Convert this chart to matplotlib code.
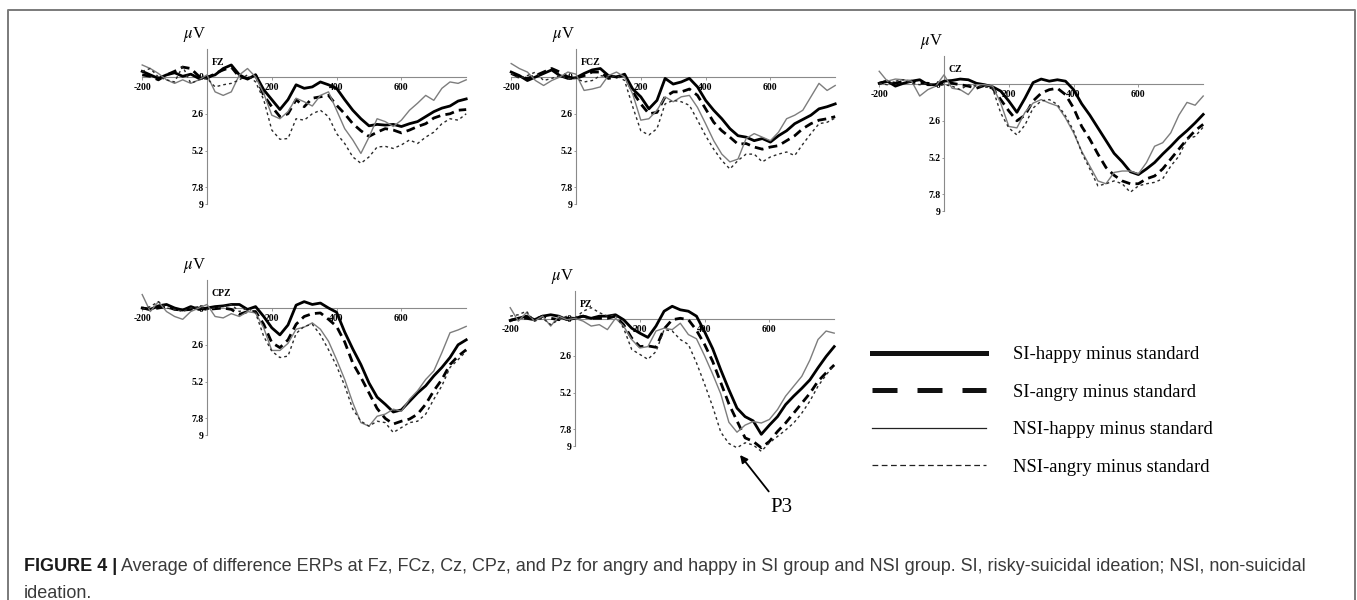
import matplotlib
matplotlib.use("Agg")
import matplotlib.pyplot as plt
from matplotlib.lines import Line2D

plt.rcParams["font.family"] = "serif"
plt.rcParams["font.serif"] = ["Liberation Serif", "DejaVu Serif"]
plt.rcParams["mathtext.fontset"] = "stix"

# time axis of the ERP difference waves (ms)
TIMES = list(range(-200, 801, 25))

# amplitudes in microvolts (positive plotted downwards, as in the figure)
FZ_SI_HAPPY = [-0.4, -0.15, 0.1, -0.15, -0.3, -0.05, -0.2, 0.1, 0.0, -0.15, -0.6, -0.85, -0.15, 0.15, -0.15, 0.9,
               1.6, 2.3, 1.6, 0.55, 0.8, 0.7, 0.35, 0.55, 0.8, 1.6, 2.35, 2.95, 3.45, 3.35, 3.4, 3.35, 3.5, 3.3,
               3.15, 2.8, 2.45, 2.2, 2.05, 1.7, 1.55]
FZ_SI_ANGRY = [-0.15, -0.05, 0.2, -0.15, -0.4, -0.7, -0.6, -0.05, 0.1, -0.25, -0.5, -0.7, 0.0, 0.1, -0.15, 1.3,
               2.1, 2.8, 2.6, 1.6, 2.1, 1.5, 1.4, 1.3, 2.0, 2.6, 3.3, 3.8, 4.2, 3.9, 3.65, 3.75, 3.95, 3.75, 3.5,
               3.3, 2.9, 2.7, 2.6, 2.35, 2.3]
FZ_NSI_HAPPY = [-0.85, -0.6, -0.25, 0.2, 0.45, 0.2, 0.45, 0.2, -0.15, 1.05, 1.3, 1.05, -0.15, -0.6, 0.0, 1.15,
                2.7, 2.95, 2.45, 1.5, 1.75, 2.05, 1.3, 1.05, 2.35, 3.65, 4.45, 5.4, 4.25, 2.95, 3.15, 3.5, 3.05,
                2.35, 1.85, 1.3, 1.65, 0.8, 0.35, 0.45, 0.2]
FZ_NSI_ANGRY = [-0.4, -0.6, 0.0, 0.2, 0.35, -0.75, 0.45, 0.2, 0.1, 0.7, 0.55, 0.45, 0.2, -0.15, 0.35, 1.6,
                3.75, 4.4, 4.35, 2.95, 3.05, 2.6, 2.35, 2.8, 4.0, 4.7, 5.65, 6.1, 5.65, 4.95, 4.9, 5.05, 4.8,
                4.45, 4.7, 4.25, 3.9, 3.3, 2.95, 3.05, 2.6]

FCZ_SI_HAPPY = [-0.35, -0.1, 0.25, 0.0, -0.25, -0.5, -0.1, 0.1, 0.05, -0.25, -0.5, -0.6, -0.1, 0.0, -0.2, 0.85,
                1.4, 2.25, 1.65, 0.1, 0.5, 0.35, 0.1, 0.7, 1.65, 2.35, 2.95, 3.65, 4.15, 4.25, 4.5, 4.35, 4.6,
                4.15, 3.8, 3.3, 3.0, 2.7, 2.25, 2.1, 1.9]
FCZ_SI_ANGRY = [-0.25, 0.0, 0.1, -0.1, -0.35, -0.6, -0.35, 0.0, 0.1, -0.1, -0.35, -0.35, 0.1, 0.0, -0.1, 1.05,
                1.9, 2.6, 2.5, 1.4, 1.05, 1.05, 0.85, 1.3, 2.25, 3.2, 3.8, 4.25, 4.75, 4.7, 4.95, 5.1, 4.95, 4.85,
                4.5, 4.15, 3.65, 3.3, 3.05, 2.95, 2.8]
FCZ_NSI_HAPPY = [-0.95, -0.6, -0.35, 0.25, 0.6, 0.25, 0.0, -0.35, -0.2, 0.95, 0.85, 0.7, -0.1, -0.35, 0.0, 1.2,
                 3.05, 2.95, 2.35, 1.4, 1.75, 1.4, 1.3, 2.15, 3.3, 4.5, 5.45, 6.0, 5.8, 4.35, 4.0, 4.25, 4.5, 3.9,
                 2.95, 2.7, 2.35, 1.4, 0.45, 0.95, 0.6]
FCZ_NSI_ANGRY = [-0.25, 0.1, -0.1, -0.35, 0.25, 0.1, -0.1, 0.1, 0.1, 0.35, 0.25, -0.1, 0.0, -0.1, 0.25, 2.1,
                 3.8, 4.1, 3.65, 1.9, 1.65, 1.75, 2.0, 3.05, 4.15, 5.1, 5.9, 6.5, 5.9, 5.45, 5.45, 6.0, 5.65, 5.45,
                 5.3, 5.55, 4.75, 4.0, 3.3, 3.2, 2.9]

CZ_SI_HAPPY = [-0.05, -0.2, 0.15, -0.05, -0.2, -0.3, 0.05, 0.05, -0.2, -0.25, -0.35, -0.3, -0.05, 0.05, 0.2, 0.5,
               1.2, 2.0, 1.0, -0.1, -0.35, -0.2, -0.3, -0.2, 0.4, 1.4, 2.2, 3.1, 4.0, 4.9, 5.5, 6.2, 6.4, 6.0,
               5.55, 4.95, 4.4, 3.8, 3.3, 2.75, 2.15]
CZ_SI_ANGRY = [-0.05, -0.2, -0.05, -0.2, -0.2, -0.05, -0.05, 0.05, -0.05, -0.05, 0.05, 0.15, 0.3, 0.1, 0.3, 1.1,
               1.9, 2.6, 2.2, 1.2, 0.65, 0.4, 0.3, 0.75, 1.7, 3.0, 3.9, 4.95, 5.9, 6.45, 6.85, 7.05, 7.05, 6.7,
               6.5, 6.0, 5.3, 4.6, 3.9, 3.3, 2.85]
CZ_NSI_HAPPY = [-0.9, -0.2, -0.35, -0.3, -0.2, 0.85, 0.4, 0.15, -0.65, 0.3, 0.4, 0.75, 0.05, 0.05, 0.15, 1.35,
                3.0, 3.1, 2.0, 1.35, 1.1, 1.35, 1.55, 2.4, 3.45, 4.75, 5.8, 6.85, 7.05, 6.25, 6.15, 6.15, 6.35,
                5.55, 4.4, 4.15, 3.45, 2.2, 1.3, 1.5, 0.85]
CZ_NSI_ANGRY = [-0.05, 0.05, -0.2, -0.3, -0.05, 0.05, -0.05, 0.15, 0.05, 0.15, 0.4, 0.05, 0.15, 0.2, 0.3, 2.05,
                3.1, 3.6, 2.9, 1.7, 1.2, 1.1, 1.45, 2.25, 3.3, 4.85, 6.0, 7.2, 7.05, 6.85, 7.05, 7.65, 7.2, 7.05,
                6.95, 6.7, 5.8, 5.1, 3.9, 3.7, 3.05]

CPZ_SI_HAPPY = [0.0, 0.1, -0.15, -0.25, 0.0, 0.15, -0.1, 0.1, 0.0, -0.1, -0.15, -0.25, -0.25, 0.1, -0.1, 0.6,
                1.4, 1.9, 1.2, -0.2, -0.45, -0.25, -0.35, 0.0, 0.3, 1.7, 2.9, 4.0, 5.3, 6.3, 6.8, 7.35, 7.2, 6.6,
                6.0, 5.5, 4.8, 4.2, 3.5, 2.6, 2.25]
CPZ_SI_ANGRY = [0.0, 0.1, 0.0, -0.1, 0.1, 0.15, 0.1, 0.0, 0.1, 0.05, 0.0, 0.1, 0.45, 0.25, 0.25, 1.15,
                2.45, 2.8, 2.25, 1.15, 0.6, 0.4, 0.35, 0.8, 1.3, 2.4, 3.9, 4.9, 6.0, 7.1, 7.8, 8.2, 8.0, 7.85,
                7.5, 6.8, 5.85, 5.05, 4.0, 3.4, 2.95]
CPZ_NSI_HAPPY = [-0.95, 0.25, -0.45, 0.25, 0.6, 0.8, 0.25, 0.0, -0.25, 0.6, 0.7, 0.4, 0.6, 0.25, 0.35, 1.4,
                 3.0, 3.0, 2.5, 1.5, 1.35, 1.05, 1.5, 2.35, 3.65, 5.05, 6.7, 8.1, 8.35, 7.65, 7.5, 7.15, 7.3,
                 6.45, 5.85, 5.05, 4.45, 3.15, 1.75, 1.55, 1.3]
CPZ_NSI_ANGRY = [0.1, -0.1, -0.45, 0.0, 0.1, 0.25, 0.0, -0.1, 0.1, 0.0, -0.1, -0.25, 0.25, 0.0, 0.35, 2.0,
                 3.05, 3.5, 3.4, 1.8, 1.3, 1.15, 1.9, 2.95, 4.1, 5.5, 7.15, 8.0, 8.35, 8.0, 8.1, 8.8, 8.45, 8.1,
                 8.0, 7.5, 6.45, 5.5, 4.2, 3.65, 3.05]

PZ_SI_HAPPY = [0.1, -0.05, -0.2, 0.05, -0.2, -0.3, -0.2, 0.05, -0.05, -0.2, -0.05, -0.2, -0.2, -0.3, 0.05, 0.65,
               1.0, 1.3, 0.5, -0.55, -0.9, -0.65, -0.55, -0.2, 0.9, 2.1, 3.6, 5.0, 6.3, 6.9, 7.2, 8.15, 7.5, 6.9,
               6.05, 5.45, 4.9, 4.3, 3.45, 2.65, 1.95]
PZ_SI_ANGRY = [0.1, -0.05, -0.05, 0.05, -0.2, -0.05, 0.05, -0.05, -0.05, -0.2, -0.05, -0.05, -0.05, -0.2, 0.4,
               1.35, 1.95, 1.9, 2.0, 0.7, 0.05, -0.05, 0.05, 0.8, 1.8, 3.0, 4.5, 6.0, 7.2, 8.4, 8.65, 9.1, 8.65,
               7.95, 7.35, 6.65, 5.95, 5.25, 4.4, 3.8, 3.25]
PZ_NSI_HAPPY = [-0.8, 0.15, -0.45, 0.15, -0.2, 0.5, -0.2, 0.05, -0.05, 0.15, 0.5, 0.4, 0.75, -0.05, 0.5, 1.45,
                2.05, 1.95, 0.85, 0.65, 0.75, 0.3, 1.1, 1.4, 2.6, 3.9, 5.3, 7.3, 8.0, 7.5, 7.25, 7.35, 7.1, 6.4,
                5.45, 4.75, 4.05, 2.9, 1.45, 0.85, 1.0]
PZ_NSI_ANGRY = [-0.2, -0.3, -0.55, 0.15, -0.05, 0.4, 0.05, -0.2, -0.05, -0.55, -0.8, -0.45, -0.2, -0.3, 0.65,
                2.15, 2.5, 2.85, 2.3, 0.75, 0.85, 1.45, 1.8, 3.1, 4.6, 6.2, 8.0, 8.8, 9.1, 8.75, 8.9, 9.35, 8.75,
                8.3, 7.85, 7.35, 6.65, 5.8, 4.75, 3.95, 3.25]

ELECTRODES = ["FZ", "FCZ", "CZ", "CPZ", "PZ"]
WAVES = {
    "FZ": [FZ_SI_HAPPY, FZ_SI_ANGRY, FZ_NSI_HAPPY, FZ_NSI_ANGRY],
    "FCZ": [FCZ_SI_HAPPY, FCZ_SI_ANGRY, FCZ_NSI_HAPPY, FCZ_NSI_ANGRY],
    "CZ": [CZ_SI_HAPPY, CZ_SI_ANGRY, CZ_NSI_HAPPY, CZ_NSI_ANGRY],
    "CPZ": [CPZ_SI_HAPPY, CPZ_SI_ANGRY, CPZ_NSI_HAPPY, CPZ_NSI_ANGRY],
    "PZ": [PZ_SI_HAPPY, PZ_SI_ANGRY, PZ_NSI_HAPPY, PZ_NSI_ANGRY],
}
CONDITIONS = ["SI-happy minus standard", "SI-angry minus standard",
              "NSI-happy minus standard", "NSI-angry minus standard"]
XTICKS = [-200, 200, 400, 600]
YTICKS = [0, 2.6, 5.2, 7.8, 9]
YTICKLABELS = ["0", "2.6", "5.2", "7.8", "9"]

# line styles per condition (plot, legend)
STYLES = [dict(color="black", lw=2.0, ls="-"),
          dict(color="black", lw=2.0, ls=(0, (3.2, 1.9))),
          dict(color="#7d7d7d", lw=1.0, ls="-"),
          dict(color="#2b2b2b", lw=1.0, ls=(0, (2.0, 2.2)))]
LEG_STYLES = [dict(color="#111111", lw=3.6, ls="-"),
              dict(color="#111111", lw=3.6, ls=(0, (5.0, 4.0))),
              dict(color="#222222", lw=0.9, ls="-"),
              dict(color="#222222", lw=0.9, ls=(0, (4.6, 2.8)))]

W, H = 1357, 600
# panel placement: pixel x of the 0 ms axis, pixel y of the 0 uV axis
PANEL_POS = {"FZ": (207, 77), "FCZ": (576, 77), "CZ": (944, 84), "CPZ": (207, 308), "PZ": (575, 319)}
PX_PER_MS = 0.324
PX_PER_UV = 14.15
XLIM = (-200, 800)
YLIM = (9, -2)
AXIS_GREY = "#8a8a8a"

fig = plt.figure(figsize=(W / 100, H / 100), dpi=100)

for name in ELECTRODES:
    x0, y0 = PANEL_POS[name]
    left = x0 + XLIM[0] * PX_PER_MS
    width = (XLIM[1] - XLIM[0]) * PX_PER_MS
    top = y0 + YLIM[1] * PX_PER_UV
    height = (YLIM[0] - YLIM[1]) * PX_PER_UV
    ax = fig.add_axes([left / W, 1 - (top + height) / H, width / W, height / H])
    ax.patch.set_visible(False)
    for wave, st in zip(WAVES[name], STYLES):
        ax.plot(TIMES, wave, color=st["color"], lw=st["lw"], ls=st["ls"], clip_on=False,
                solid_joinstyle="round")
    ax.set_xlim(*XLIM)
    ax.set_ylim(*YLIM)
    for s in ("top", "right"):
        ax.spines[s].set_visible(False)
    for s in ("left", "bottom"):
        ax.spines[s].set_position(("data", 0))
        ax.spines[s].set_color(AXIS_GREY)
        ax.spines[s].set_linewidth(0.8)
        ax.spines[s].set_zorder(0.5)
    ax.set_xticks(XTICKS)
    ax.set_xticklabels([str(t) for t in XTICKS], fontsize=7, fontweight="bold")
    ax.set_yticks(YTICKS)
    ax.set_yticklabels(YTICKLABELS, fontsize=7, fontweight="bold")
    ax.tick_params(axis="x", length=2, width=0.6, color=AXIS_GREY, pad=2)
    ax.tick_params(axis="y", length=1.5, width=0.6, color=AXIS_GREY, pad=0.8)
    ax.annotate(r"$\mu$V", xy=(0, YLIM[1]), xytext=(-9, 10), textcoords="offset points",
                ha="center", va="center", fontsize=12)
    ax.annotate(name, xy=(0, 0), xytext=(3.5, 10.5), textcoords="offset points",
                ha="left", va="center", fontsize=7, fontweight="bold")

# legend with thicker proxy lines, as in the figure
handles = [Line2D([], [], color=st["color"], lw=st["lw"], ls=st["ls"]) for st in LEG_STYLES]
fig.legend(handles, CONDITIONS, loc="upper left", bbox_to_anchor=(872 / W, 1 - 346 / H),
           frameon=False, fontsize=13.4, handlelength=6.1, handletextpad=1.5, labelspacing=1.1,
           borderpad=0, borderaxespad=0)

# overlay in pixel coordinates for the frame, the P3 marker and the caption
over = fig.add_axes([0, 0, 1, 1])
over.set_xlim(0, W)
over.set_ylim(H, 0)
over.axis("off")
over.patch.set_visible(False)
over.plot([7.5, 7.5, 1354.5, 1354.5], [H + 5, 10, 10, H + 5], color="#7a7a7a", lw=1.4, clip_on=False)
over.annotate("P3", xy=(740, 455), xytext=(781, 507), ha="center", va="center", fontsize=15,
              arrowprops=dict(arrowstyle="-|>", color="black", lw=1.3, mutation_scale=11,
                              shrinkA=3, shrinkB=0))

cap_font = ["Liberation Sans", "DejaVu Sans"]
CAP_SIZE = 13.0
t1 = fig.text(24 / W, 1 - 571 / H, "FIGURE 4 |", fontsize=CAP_SIZE, fontweight="bold",
              family=cap_font, color="#1a1a1a", va="baseline")
fig.canvas.draw()
bb = t1.get_window_extent()
fig.text(bb.x1 / W + 4 / W, 1 - 571 / H,
         "Average of difference ERPs at Fz, FCz, Cz, CPz, and Pz for angry and happy in SI group and NSI group. "
         "SI, risky-suicidal ideation; NSI, non-suicidal",
         fontsize=CAP_SIZE, family=cap_font, color="#3a3a3a", va="baseline")
fig.text(24 / W, 1 - 598 / H, "ideation.", fontsize=CAP_SIZE, family=cap_font, color="#3a3a3a", va="baseline")

fig.savefig("out.png", dpi=100)
